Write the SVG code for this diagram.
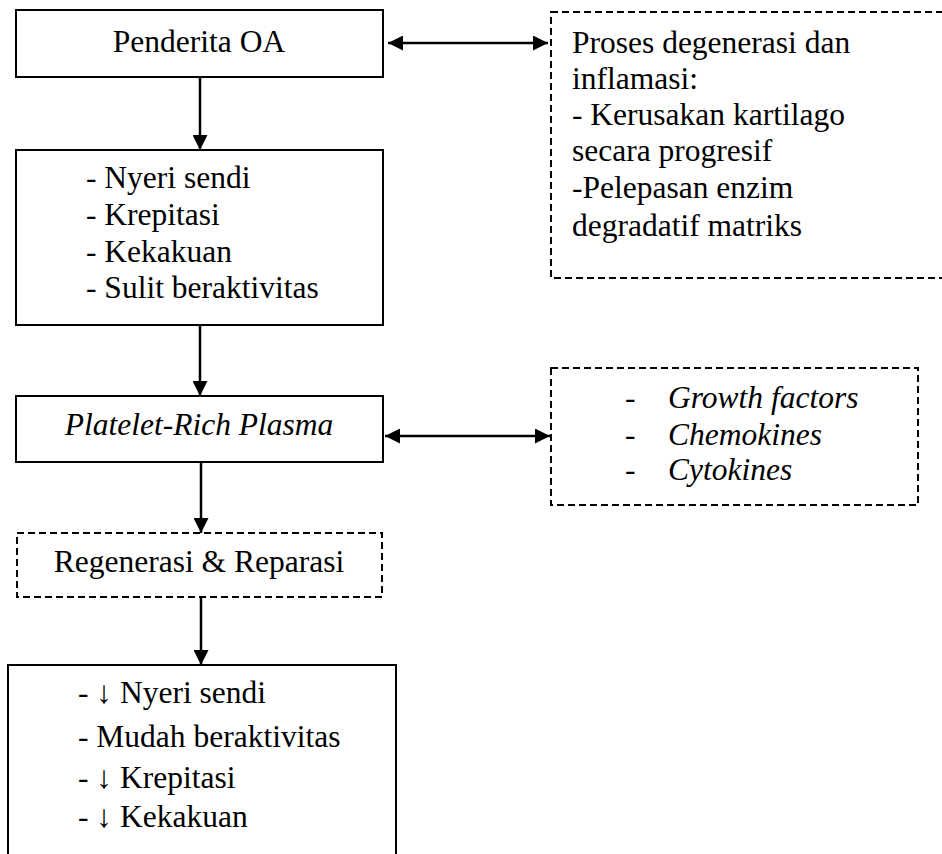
<svg xmlns="http://www.w3.org/2000/svg" width="942" height="854" viewBox="0 0 942 854">
<defs>
<style>
.box{fill:#fff;stroke:#000;stroke-width:2}
.dash{fill:#fff;stroke:#000;stroke-width:2;stroke-dasharray:7 4}
.open{fill:none;stroke:#000;stroke-width:2}
.t{font-family:"Liberation Serif","Times New Roman",serif;font-size:31.5px;fill:#000}
.i{font-style:italic}
.c{text-anchor:middle}
.conn{stroke:#000;stroke-width:2.5;fill:none}
</style>
<marker id="ah" markerUnits="userSpaceOnUse" markerWidth="15" markerHeight="15" refX="15" refY="7.5" orient="auto-start-reverse" viewBox="0 0 15 15">
<path d="M0,0 L15,7.5 L0,15 z" fill="#000"/>
</marker>
</defs>
<rect width="942" height="854" fill="#fff"/>
<g id="n1">
<rect class="box" x="16" y="10" width="367" height="67"/>
<text class="t c" x="199" y="52">Penderita OA</text>
</g>
<g id="n2">
<rect class="box" x="16" y="150" width="367" height="175"/>
<text class="t" x="86" y="188">- Nyeri sendi</text>
<text class="t" x="86" y="225">- Krepitasi</text>
<text class="t" x="86" y="262">- Kekakuan</text>
<text class="t" x="86" y="298">- Sulit beraktivitas</text>
</g>
<g id="n3">
<rect class="dash" x="551" y="12" width="400" height="266"/>
<text class="t" x="572" y="53">Proses degenerasi dan</text>
<text class="t" x="572" y="89">inflamasi:</text>
<text class="t" x="572" y="125">- Kerusakan kartilago</text>
<text class="t" x="572" y="161">secara progresif</text>
<text class="t" x="572" y="198">-Pelepasan enzim</text>
<text class="t" x="572" y="236">degradatif matriks</text>
</g>
<g id="n4">
<rect class="box" x="16" y="396" width="367" height="66"/>
<text class="t i c" x="199" y="435">Platelet-Rich Plasma</text>
</g>
<g id="n5">
<rect class="dash" x="551" y="368" width="367" height="137"/>
<text class="t" x="625" y="408">-</text>
<text class="t i" x="668" y="408">Growth factors</text>
<text class="t" x="625" y="445">-</text>
<text class="t i" x="668" y="445">Chemokines</text>
<text class="t" x="625" y="480">-</text>
<text class="t i" x="668" y="480">Cytokines</text>
</g>
<g id="n6">
<rect class="dash" x="17" y="533" width="365" height="64"/>
<text class="t c" x="199" y="572">Regenerasi &amp; Reparasi</text>
</g>
<g id="n7">
<path class="open" d="M8,860 L8,665 L396,665 L396,860"/>
<text class="t" x="78" y="703">- ↓ Nyeri sendi</text>
<text class="t" x="78" y="747">- Mudah beraktivitas</text>
<text class="t" x="78" y="788">- ↓ Krepitasi</text>
<text class="t" x="78" y="827">- ↓ Kekakuan</text>
</g>
<g id="connectors">
<line class="conn" x1="200" y1="77" x2="200" y2="150" marker-end="url(#ah)"/>
<line class="conn" x1="388" y1="43" x2="548" y2="43" marker-start="url(#ah)" marker-end="url(#ah)"/>
<line class="conn" x1="200" y1="325" x2="200" y2="396" marker-end="url(#ah)"/>
<line class="conn" x1="385" y1="436" x2="550" y2="436" marker-start="url(#ah)" marker-end="url(#ah)"/>
<line class="conn" x1="201" y1="462" x2="201" y2="533" marker-end="url(#ah)"/>
<line class="conn" x1="201" y1="597" x2="201" y2="665" marker-end="url(#ah)"/>
</g>
</svg>
